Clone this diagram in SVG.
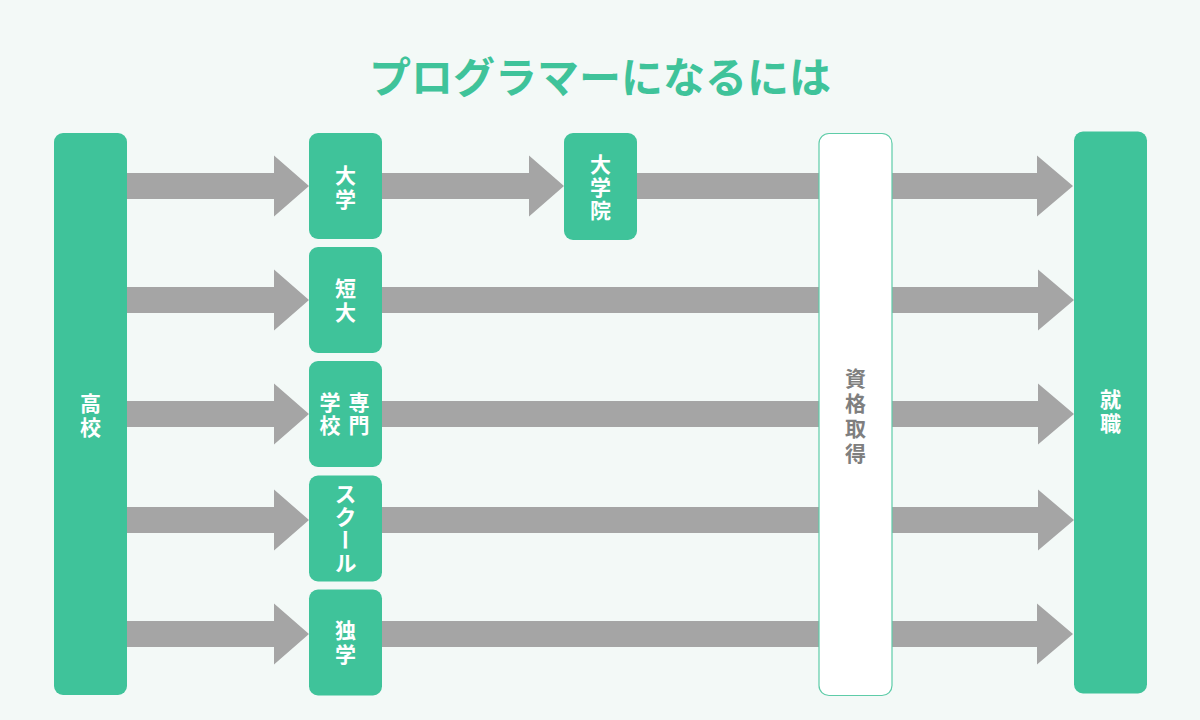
<svg xmlns="http://www.w3.org/2000/svg" width="1200" height="720" viewBox="0 0 1200 720">
<style>
.bg{fill:#f3f9f7}
.node{fill:#3fc39a}
.cert{fill:#ffffff;stroke:#5ecca8;stroke-width:1.2}
.arrow{fill:#a5a5a5}
.t{font-family:"Noto Sans CJK JP","Noto Sans",sans-serif;font-weight:bold;font-size:21px;fill:#ffffff;text-anchor:middle;writing-mode:vertical-rl;letter-spacing:3px}
.g{fill:#7f7f7f;letter-spacing:4px}
.title{font-family:"Noto Sans CJK JP","Noto Sans",sans-serif;font-weight:bold;font-size:42px;fill:#3fc39a;text-anchor:middle;dominant-baseline:central}
</style>
<rect class="bg" x="0" y="0" width="1200" height="720"/>
<text class="title" x="600" y="74">プログラマーになるには</text>
<g id="connectors">
  <polygon class="arrow" points="127,173 274,173 274,155.5 309,186 274,216.5 274,199 127,199"/>
  <polygon class="arrow" points="127,287 274,287 274,269.5 309,300 274,330.5 274,313 127,313"/>
  <polygon class="arrow" points="127,401 274,401 274,383.5 309,414 274,444.5 274,427 127,427"/>
  <polygon class="arrow" points="127,507 274,507 274,489.5 309,520 274,550.5 274,533 127,533"/>
  <polygon class="arrow" points="127,621 274,621 274,603.5 309,634 274,664.5 274,647 127,647"/>
  <polygon class="arrow" points="382,173 529,173 529,155.5 564,186 529,216.5 529,199 382,199"/>
  <polygon class="arrow" points="637,173 1037,173 1037,155.5 1073,186 1037,216.5 1037,199 637,199"/>
  <polygon class="arrow" points="382,287 1038,287 1038,269.5 1074,300 1038,330.5 1038,313 382,313"/>
  <polygon class="arrow" points="382,401 1038,401 1038,383.5 1074,414 1038,444.5 1038,427 382,427"/>
  <polygon class="arrow" points="382,507 1038,507 1038,489.5 1074,520 1038,550.5 1038,533 382,533"/>
  <polygon class="arrow" points="382,621 1037,621 1037,603.5 1073,634 1037,664.5 1037,647 382,647"/>
</g>
<g id="koukou">
  <rect class="node" x="54" y="133" width="73" height="562" rx="9"/>
  <text class="t" x="90.5" y="416.5">高校</text>
</g>
<g id="daigaku">
  <rect class="node" x="309" y="133" width="73" height="106" rx="9"/>
  <text class="t" x="345.5" y="188.5">大学</text>
</g>
<g id="tandai">
  <rect class="node" x="309" y="247" width="73" height="106" rx="9"/>
  <text class="t" x="345.5" y="301.5">短大</text>
</g>
<g id="senmon">
  <rect class="node" x="309" y="361" width="73" height="106" rx="9"/>
  <text class="t" x="359" y="415" style="letter-spacing:2px">専門</text>
  <text class="t" x="330" y="415" style="letter-spacing:2px">学校</text>
</g>
<g id="school">
  <rect class="node" x="309" y="475.5" width="73" height="106" rx="9"/>
  <text class="t" x="345.5" y="529" style="font-size:22px;letter-spacing:1px">スクール</text>
</g>
<g id="dokugaku">
  <rect class="node" x="309" y="589.5" width="73" height="106" rx="9"/>
  <text class="t" x="345.5" y="643.5">独学</text>
</g>
<g id="daigakuin">
  <rect class="node" x="564" y="133" width="73" height="107" rx="9"/>
  <text class="t" x="600.5" y="188" style="letter-spacing:2px">大学院</text>
</g>
<g id="shikaku">
  <rect class="cert" x="819" y="133.5" width="73" height="562" rx="10"/>
  <text class="t g" x="855.5" y="418">資格取得</text>
</g>
<g id="shushoku">
  <rect class="node" x="1074" y="131.5" width="73" height="562" rx="9"/>
  <text class="t" x="1110.5" y="412.5">就職</text>
</g>
</svg>
